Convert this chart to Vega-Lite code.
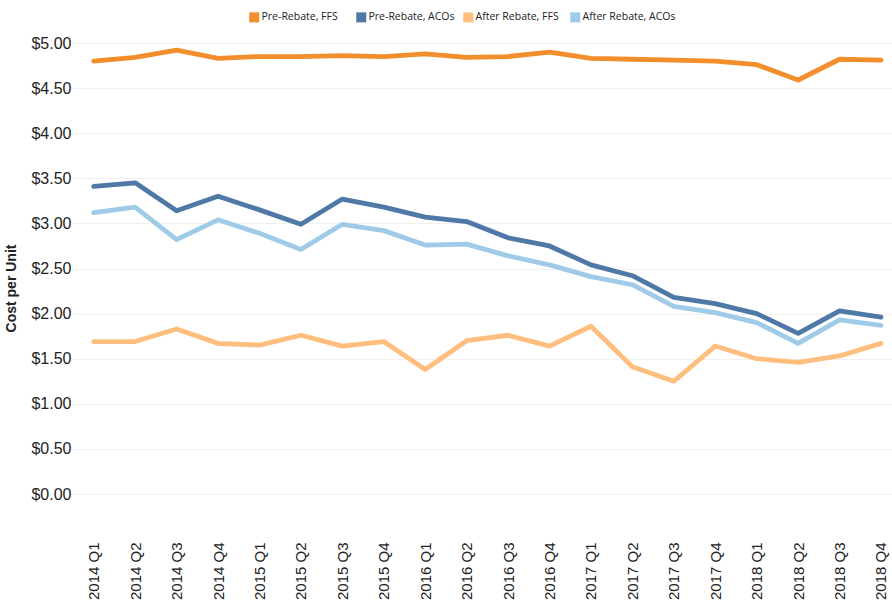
{
  "$schema": "https://vega.github.io/schema/vega-lite/v6.json",
  "autosize": {"type": "none"},
  "padding": {"left": 73, "top": 43, "right": 0, "bottom": 106},
  "width": 819,
  "height": 451,
  "background": "white",
  "datasets": {
    "series": [
      {"q": "2014 Q1", "s": "Pre-Rebate, FFS", "v": 4.80}, {"q": "2014 Q2", "s": "Pre-Rebate, FFS", "v": 4.84}, {"q": "2014 Q3", "s": "Pre-Rebate, FFS", "v": 4.92}, {"q": "2014 Q4", "s": "Pre-Rebate, FFS", "v": 4.83},
      {"q": "2015 Q1", "s": "Pre-Rebate, FFS", "v": 4.85}, {"q": "2015 Q2", "s": "Pre-Rebate, FFS", "v": 4.85}, {"q": "2015 Q3", "s": "Pre-Rebate, FFS", "v": 4.86}, {"q": "2015 Q4", "s": "Pre-Rebate, FFS", "v": 4.85},
      {"q": "2016 Q1", "s": "Pre-Rebate, FFS", "v": 4.88}, {"q": "2016 Q2", "s": "Pre-Rebate, FFS", "v": 4.84}, {"q": "2016 Q3", "s": "Pre-Rebate, FFS", "v": 4.85}, {"q": "2016 Q4", "s": "Pre-Rebate, FFS", "v": 4.90},
      {"q": "2017 Q1", "s": "Pre-Rebate, FFS", "v": 4.83}, {"q": "2017 Q2", "s": "Pre-Rebate, FFS", "v": 4.82}, {"q": "2017 Q3", "s": "Pre-Rebate, FFS", "v": 4.81}, {"q": "2017 Q4", "s": "Pre-Rebate, FFS", "v": 4.80},
      {"q": "2018 Q1", "s": "Pre-Rebate, FFS", "v": 4.76}, {"q": "2018 Q2", "s": "Pre-Rebate, FFS", "v": 4.59}, {"q": "2018 Q3", "s": "Pre-Rebate, FFS", "v": 4.82}, {"q": "2018 Q4", "s": "Pre-Rebate, FFS", "v": 4.81},

      {"q": "2014 Q1", "s": "Pre-Rebate, ACOs", "v": 3.41}, {"q": "2014 Q2", "s": "Pre-Rebate, ACOs", "v": 3.45}, {"q": "2014 Q3", "s": "Pre-Rebate, ACOs", "v": 3.14}, {"q": "2014 Q4", "s": "Pre-Rebate, ACOs", "v": 3.30},
      {"q": "2015 Q1", "s": "Pre-Rebate, ACOs", "v": 3.15}, {"q": "2015 Q2", "s": "Pre-Rebate, ACOs", "v": 2.99}, {"q": "2015 Q3", "s": "Pre-Rebate, ACOs", "v": 3.27}, {"q": "2015 Q4", "s": "Pre-Rebate, ACOs", "v": 3.18},
      {"q": "2016 Q1", "s": "Pre-Rebate, ACOs", "v": 3.07}, {"q": "2016 Q2", "s": "Pre-Rebate, ACOs", "v": 3.02}, {"q": "2016 Q3", "s": "Pre-Rebate, ACOs", "v": 2.84}, {"q": "2016 Q4", "s": "Pre-Rebate, ACOs", "v": 2.75},
      {"q": "2017 Q1", "s": "Pre-Rebate, ACOs", "v": 2.54}, {"q": "2017 Q2", "s": "Pre-Rebate, ACOs", "v": 2.42}, {"q": "2017 Q3", "s": "Pre-Rebate, ACOs", "v": 2.18}, {"q": "2017 Q4", "s": "Pre-Rebate, ACOs", "v": 2.11},
      {"q": "2018 Q1", "s": "Pre-Rebate, ACOs", "v": 2.00}, {"q": "2018 Q2", "s": "Pre-Rebate, ACOs", "v": 1.78}, {"q": "2018 Q3", "s": "Pre-Rebate, ACOs", "v": 2.03}, {"q": "2018 Q4", "s": "Pre-Rebate, ACOs", "v": 1.96},

      {"q": "2014 Q1", "s": "After Rebate, FFS", "v": 1.69}, {"q": "2014 Q2", "s": "After Rebate, FFS", "v": 1.69}, {"q": "2014 Q3", "s": "After Rebate, FFS", "v": 1.83}, {"q": "2014 Q4", "s": "After Rebate, FFS", "v": 1.67},
      {"q": "2015 Q1", "s": "After Rebate, FFS", "v": 1.65}, {"q": "2015 Q2", "s": "After Rebate, FFS", "v": 1.76}, {"q": "2015 Q3", "s": "After Rebate, FFS", "v": 1.64}, {"q": "2015 Q4", "s": "After Rebate, FFS", "v": 1.69},
      {"q": "2016 Q1", "s": "After Rebate, FFS", "v": 1.38}, {"q": "2016 Q2", "s": "After Rebate, FFS", "v": 1.70}, {"q": "2016 Q3", "s": "After Rebate, FFS", "v": 1.76}, {"q": "2016 Q4", "s": "After Rebate, FFS", "v": 1.64},
      {"q": "2017 Q1", "s": "After Rebate, FFS", "v": 1.86}, {"q": "2017 Q2", "s": "After Rebate, FFS", "v": 1.41}, {"q": "2017 Q3", "s": "After Rebate, FFS", "v": 1.25}, {"q": "2017 Q4", "s": "After Rebate, FFS", "v": 1.64},
      {"q": "2018 Q1", "s": "After Rebate, FFS", "v": 1.50}, {"q": "2018 Q2", "s": "After Rebate, FFS", "v": 1.46}, {"q": "2018 Q3", "s": "After Rebate, FFS", "v": 1.53}, {"q": "2018 Q4", "s": "After Rebate, FFS", "v": 1.67},

      {"q": "2014 Q1", "s": "After Rebate, ACOs", "v": 3.12}, {"q": "2014 Q2", "s": "After Rebate, ACOs", "v": 3.18}, {"q": "2014 Q3", "s": "After Rebate, ACOs", "v": 2.82}, {"q": "2014 Q4", "s": "After Rebate, ACOs", "v": 3.04},
      {"q": "2015 Q1", "s": "After Rebate, ACOs", "v": 2.89}, {"q": "2015 Q2", "s": "After Rebate, ACOs", "v": 2.71}, {"q": "2015 Q3", "s": "After Rebate, ACOs", "v": 2.99}, {"q": "2015 Q4", "s": "After Rebate, ACOs", "v": 2.92},
      {"q": "2016 Q1", "s": "After Rebate, ACOs", "v": 2.76}, {"q": "2016 Q2", "s": "After Rebate, ACOs", "v": 2.77}, {"q": "2016 Q3", "s": "After Rebate, ACOs", "v": 2.64}, {"q": "2016 Q4", "s": "After Rebate, ACOs", "v": 2.54},
      {"q": "2017 Q1", "s": "After Rebate, ACOs", "v": 2.41}, {"q": "2017 Q2", "s": "After Rebate, ACOs", "v": 2.32}, {"q": "2017 Q3", "s": "After Rebate, ACOs", "v": 2.08}, {"q": "2017 Q4", "s": "After Rebate, ACOs", "v": 2.01},
      {"q": "2018 Q1", "s": "After Rebate, ACOs", "v": 1.90}, {"q": "2018 Q2", "s": "After Rebate, ACOs", "v": 1.67}, {"q": "2018 Q3", "s": "After Rebate, ACOs", "v": 1.93}, {"q": "2018 Q4", "s": "After Rebate, ACOs", "v": 1.87}
    ]
  },
  "data": {"name": "series"},
  "config": {
    "view": {"stroke": null},
    "font": "Liberation Sans"
  },
  "mark": {"type": "line", "strokeWidth": 4.8, "strokeCap": "round", "strokeJoin": "round"},
  "encoding": {
    "x": {
      "field": "q", "type": "ordinal",
      "scale": {"type": "point", "padding": 0.383, "align": 0.653},
      "axis": {
        "title": null, "labelAngle": -90, "ticks": false, "domain": false, "grid": false,
        "offset": 46, "labelPadding": 2, "labelFontSize": 15, "labelColor": "#222222",
        "labelFont": "Liberation Sans"
      }
    },
    "y": {
      "field": "v", "type": "quantitative",
      "scale": {"domain": [0, 5]},
      "axis": {
        "title": "Cost per Unit", "titleFontSize": 14, "titleFontWeight": "bold", "titleColor": "#222222",
        "titleX": -55, "titleY": 245, "titleFont": "Liberation Sans",
        "format": "$.2f", "values": [0, 0.5, 1, 1.5, 2, 2.5, 3, 3.5, 4, 4.5, 5],
        "ticks": false, "domain": false, "labelPadding": 2, "labelFontSize": 16, "labelColor": "#222222",
        "gridColor": "#f0f0f0", "gridWidth": 1
      }
    },
    "color": {
      "field": "s", "type": "nominal",
      "scale": {
        "domain": ["Pre-Rebate, FFS", "Pre-Rebate, ACOs", "After Rebate, FFS", "After Rebate, ACOs"],
        "range": ["#f28e2b", "#4e79a7", "#ffbe7d", "#a0cbe8"]
      },
      "legend": {
        "title": null, "orient": "none", "legendX": 176, "legendY": -31,
        "direction": "horizontal", "columns": 4, "gridAlign": "all",
        "symbolType": "square", "symbolSize": 100, "symbolStrokeWidth": 0,
        "labelFontSize": 10.5, "labelFont": "Open Sans", "labelColor": "#222222",
        "labelOffset": 2, "columnPadding": 1,
        "encode": {
          "symbols": {"update": {"fill": {"scale": "color", "field": "value"}, "fillOpacity": {"value": 1}}}
        }
      }
    }
  }
}
